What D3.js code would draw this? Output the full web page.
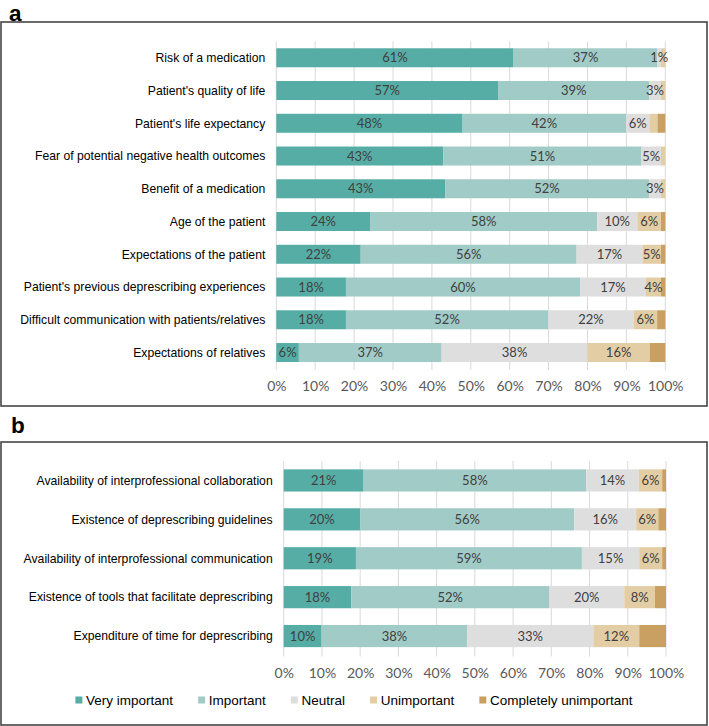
<!DOCTYPE html>
<html>
<head>
<meta charset="utf-8">
<script src="https://cdn.jsdelivr.net/npm/d3@7/dist/d3.min.js"></script>
<style>
  html, body { margin: 0; padding: 0; background: #fff; }
  svg { display: block; }
</style>
</head>
<body>
<svg id="chart" width="709" height="726"></svg>
<script>
// ---------- DATA ----------
const seriesNames = ["Very important", "Important", "Neutral", "Unimportant", "Completely unimportant"];
const seriesColors = ["#56ada5", "#a1cbc6", "#dedede", "#e3cda5", "#c9a061"];

const categoriesA = [
  "Risk of a medication",
  "Patient's quality of life",
  "Patient's life expectancy",
  "Fear of potential negative health outcomes",
  "Benefit of a medication",
  "Age of the patient",
  "Expectations of the patient",
  "Patient's previous deprescribing experiences",
  "Difficult communication with patients/relatives",
  "Expectations of relatives"
];
const veryA        = [61.0, 57.0, 47.9, 42.9, 43.4, 24.1, 21.7, 17.9, 17.9, 5.8];
const importantA   = [37.0, 38.9, 42.0, 51.0, 52.4, 58.4, 55.5, 60.2, 52.0, 36.7];
const neutralA     = [0.9, 2.9, 6.0, 5.0, 3.1, 10.3, 16.9, 16.9, 22.0, 37.5];
const unimportantA = [1.1, 1.2, 2.1, 1.1, 1.1, 6.1, 4.8, 3.9, 6.0, 16.0];
const completelyA  = [0.0, 0.0, 2.0, 0.0, 0.0, 1.1, 1.1, 1.1, 2.1, 4.0];

const categoriesB = [
  "Availability of interprofessional collaboration",
  "Existence of deprescribing guidelines",
  "Availability of interprofessional communication",
  "Existence of tools that facilitate deprescribing",
  "Expenditure of time for deprescribing"
];
const veryB        = [20.9, 20.0, 18.9, 17.7, 9.9];
const importantB   = [58.2, 56.0, 59.1, 51.7, 38.1];
const neutralB     = [13.8, 16.2, 15.0, 19.7, 33.0];
const unimportantB = [6.1, 5.8, 6.0, 8.0, 12.0];
const completelyB  = [1.0, 2.0, 1.0, 2.9, 7.0];

const tickValues = [0, 10, 20, 30, 40, 50, 60, 70, 80, 90, 100];

// ---------- DRAW ----------
const svg = d3.select("#chart");
const labelFont = "'Liberation Sans', Arial, Helvetica, sans-serif";
const numFont = "Lato, 'Open Sans', sans-serif";

function panel(cfg) {
  const rows = cfg.categories.map((c, i) => {
    const r = { cat: c };
    seriesNames.forEach((s, j) => r[s] = cfg.values[j][i]);
    return r;
  });
  const stack = d3.stack().keys(seriesNames)(rows);

  const x = d3.scaleLinear().domain([0, 100]).range([cfg.x0, cfg.x1]);
  const y = d3.scaleBand().domain(cfg.categories).range([cfg.yTop, cfg.yBot])
    .paddingInner(cfg.padding).paddingOuter(cfg.padding / 2);

  // frame
  svg.append("rect")
    .attr("x", cfg.frame[0]).attr("y", cfg.frame[1])
    .attr("width", cfg.frame[2]).attr("height", cfg.frame[3])
    .attr("fill", "none").attr("stroke", "#3a3a3a").attr("stroke-width", 1.5);

  // panel letter
  svg.append("text").attr("x", cfg.letterPos[0]).attr("y", cfg.letterPos[1])
    .attr("font-family", labelFont).attr("font-weight", "bold").attr("font-size", 22.5)
    .attr("fill", "#000").text(cfg.letter);

  // gridlines
  const g = svg.append("g");
  g.selectAll("line.grid").data(tickValues).enter().append("line")
    .attr("x1", d => x(d)).attr("x2", d => x(d))
    .attr("y1", cfg.yTop).attr("y2", cfg.yBot + 1)
    .attr("stroke", "#d9d9d9").attr("stroke-width", 1);

  // x axis labels
  const axis = d3.axisBottom(x).tickValues(tickValues).tickSize(0).tickPadding(0)
    .tickFormat(d => d + "%");
  const ax = svg.append("g").attr("transform", `translate(0,${cfg.tickY})`).call(axis);
  ax.select(".domain").remove();
  ax.selectAll("text").attr("font-family", numFont).attr("font-size", 14)
    .attr("fill", "#595959").attr("dy", "0.35em").attr("y", 0);

  // bars
  const layers = g.selectAll("g.layer").data(stack).enter().append("g")
    .attr("fill", (d, i) => seriesColors[i]);
  layers.selectAll("rect").data(d => d).enter().append("rect")
    .attr("x", d => x(d[0])).attr("width", d => x(d[1]) - x(d[0]))
    .attr("y", d => y(d.data.cat)).attr("height", y.bandwidth());

  // value labels
  stack.forEach((layer, si) => {
    layer.forEach(d => {
      const v = d[1] - d[0];
      let show = false;
      if (si <= 2) show = v >= 0.5;
      else if (si === 3) show = v >= 3.5;
      if (!show) return;
      svg.append("text")
        .attr("x", x((d[0] + d[1]) / 2))
        .attr("y", y(d.data.cat) + y.bandwidth() / 2)
        .attr("dy", "0.35em").attr("text-anchor", "middle")
        .attr("font-family", numFont).attr("font-size", 13)
        .attr("fill", "#404040").text(Math.round(v) + "%");
    });
  });

  // category labels
  svg.selectAll(null).data(cfg.categories).enter().append("text")
    .attr("x", cfg.x0 - 11).attr("y", d => y(d) + y.bandwidth() / 2)
    .attr("dy", "0.35em").attr("text-anchor", "end")
    .attr("font-family", labelFont).attr("font-size", 12.2)
    .attr("fill", "#000").text(d => d);
}

panel({
  letter: "a", letterPos: [9, 20.5],
  frame: [1, 22, 706, 384],
  categories: categoriesA,
  values: [veryA, importantA, neutralA, unimportantA, completelyA],
  x0: 276.3, x1: 665.3, yTop: 41.4, yBot: 368.9, padding: 0.42, tickY: 386
});

panel({
  letter: "b", letterPos: [11, 433],
  frame: [1, 442, 706, 283],
  categories: categoriesB,
  values: [veryB, importantB, neutralB, unimportantB, completelyB],
  x0: 283.7, x1: 666, yTop: 461, yBot: 655.5, padding: 0.43, tickY: 673
});

// legend
const leg = svg.append("g");
const items = seriesNames.map((s, i) => {
  const t = leg.append("text").attr("font-family", labelFont).attr("font-size", 13.5)
    .attr("fill", "#000").attr("y", 705).text(s);
  return { t, w: t.node().getComputedTextLength(), i };
});
const gap = 25, sq = 7, sqGap = 3.7;
const total = d3.sum(items, d => sq + sqGap + d.w) + gap * (items.length - 1);
let cx = 354 - total / 2;
items.forEach(d => {
  leg.append("rect").attr("x", cx).attr("y", 696.5).attr("width", sq).attr("height", sq)
    .attr("fill", seriesColors[d.i]);
  d.t.attr("x", cx + sq + sqGap);
  cx += sq + sqGap + d.w + gap;
});
</script>
</body>
</html>
